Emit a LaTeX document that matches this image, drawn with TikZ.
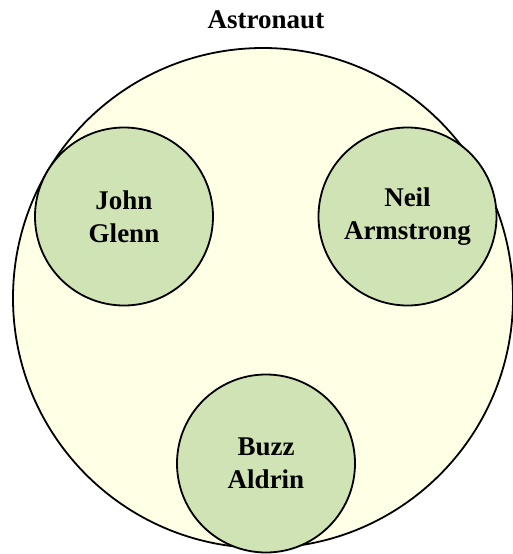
\documentclass[tikz,border=0pt]{standalone}
\usepackage{fontspec}
\setmainfont{Liberation Serif}
\definecolor{outerfill}{RGB}{255,255,230}
\definecolor{innerfill}{RGB}{208,227,181}
\begin{document}
\begin{tikzpicture}[x=1pt,y=-1pt,
  setcircle/.style={circle,draw=black,line width=1.8pt,inner sep=0pt},
  member/.style={setcircle,fill=innerfill,minimum size=178pt,
    font=\fontsize{27}{33}\selectfont\bfseries,align=center},
  heading/.style={font=\fontsize{27}{33}\selectfont\bfseries}]
  \useasboundingbox (0,0) rectangle (513,554);
  % the enclosing set
  \node[setcircle,fill=outerfill,minimum size=500pt] (outer) at (263,298) {};
  \node[heading] (title) at (266,20) {Astronaut};
  % members of the set
  \node[member] (john) at (124,216.5) {John\\Glenn};
  \node[member] (neil) at (407.5,216.5) {Neil\\Armstrong};
  \node[member] (buzz) at (266,463.5) {Buzz\\Aldrin};
\end{tikzpicture}
\end{document}
